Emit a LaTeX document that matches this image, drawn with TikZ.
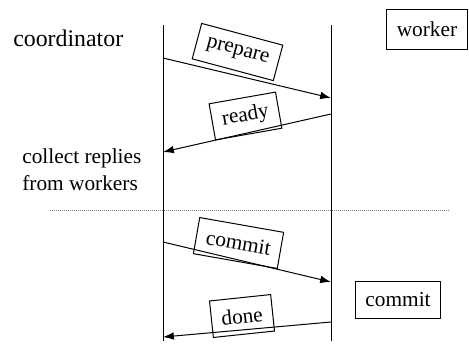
\documentclass[tikz,border=0pt]{standalone}
\usepackage{fontspec}
\setmainfont{Liberation Serif}
\newfontfamily\diagfont{Liberation Serif}
\usetikzlibrary{arrows.meta}
\begin{document}
\begin{tikzpicture}[x=0.6pt,y=-0.6pt,
  every node/.style={font=\diagfont\fontsize{12.8}{16}\selectfont},
  lbl/.style={draw,line width=0.6pt,fill=white,inner xsep=6pt,inner ysep=0pt,minimum height=22pt},
  plain/.style={inner sep=0pt},
  life/.style={line width=0.6pt},
  msg/.style={line width=0.6pt,-{Latex[length=6.5pt,width=4.6pt]}},
  sep/.style={gray,line width=0.6pt,dash pattern=on 0.6pt off 0.6pt}]
\useasboundingbox (0,0) rectangle (469,345);
% lifelines
\coordinate (cTop) at (163,25);
\coordinate (cBot) at (163,341);
\coordinate (wTop) at (331,25);
\coordinate (wBot) at (331,341);
\draw[life] (cTop) -- (cBot);
\draw[life] (wTop) -- (wBot);
% texts
\node[plain,anchor=base west,font=\diagfont\fontsize{14.3}{16}\selectfont] (coord) at (13,46) {coordinator};
\node[lbl,minimum height=24pt] (worker) at (427,29) {worker};
\node[plain,anchor=base west,align=left] (collect) at (22,190) {collect replies\\from workers};
\node[lbl] (wcommit) at (398,300) {commit};
% separator
\coordinate (s1) at (50,210);
\coordinate (s2) at (450,210);
\draw[sep] (s1) -- (s2);
% messages
\coordinate (p1) at (163,58);  \coordinate (p2) at (331,98);
\coordinate (r1) at (331,114); \coordinate (r2) at (163,152);
\coordinate (c1) at (163,242); \coordinate (c2) at (331,282);
\coordinate (d1) at (331,322); \coordinate (d2) at (163,337);
\node[lbl,rotate=-15] (lprep) at (237.5,52) {prepare};
\node[lbl,rotate=10] (lready) at (245.5,116) {ready};
\node[lbl,rotate=-10] (lcommit) at (238.5,243) {commit};
\node[lbl,rotate=6] (ldone) at (242,316) {done};
\draw[msg] (p1) -- (p2);
\draw[msg] (r1) -- (r2);
\draw[msg] (c1) -- (c2);
\draw[msg] (d1) -- (d2);
\end{tikzpicture}
\end{document}
